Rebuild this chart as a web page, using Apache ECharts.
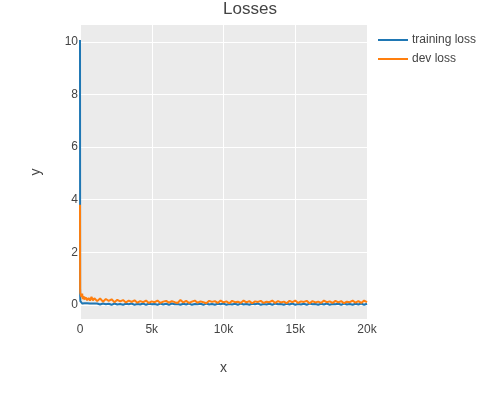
<!DOCTYPE html>
<html>
<head>
<meta charset="utf-8">
<title>Losses</title>
<script src="https://cdn.jsdelivr.net/npm/echarts@6/dist/echarts.min.js"></script>
<style>
  html, body { margin: 0; padding: 0; background: #fff; }
  #chart { width: 500px; height: 400px; }
</style>
</head>
<body>
<div id="chart"></div>
<script>
// training step of each logged point
var steps = [0, 10, 25, 50, 100, 150, 200, 250, 300, 400, 500, 600, 700, 800, 900, 1000,
  1200, 1400, 1600, 1800, 2000, 2200, 2400, 2600, 2800, 3000,
  3200, 3400, 3600, 3800, 4000, 4200, 4400, 4600, 4800, 5000,
  5200, 5400, 5600, 5800, 6000, 6200, 6400, 6600, 6800, 7000,
  7200, 7400, 7600, 7800, 8000, 8200, 8400, 8600, 8800, 9000,
  9200, 9400, 9600, 9800, 10000, 10200, 10400, 10600, 10800, 11000,
  11200, 11400, 11600, 11800, 12000, 12200, 12400, 12600, 12800, 13000,
  13200, 13400, 13600, 13800, 14000, 14200, 14400, 14600, 14800, 15000,
  15200, 15400, 15600, 15800, 16000, 16200, 16400, 16600, 16800, 17000,
  17200, 17400, 17600, 17800, 18000, 18200, 18400, 18600, 18800, 19000,
  19200, 19400, 19600, 19800, 20000];

var trainingLoss = [10.07, 0.35, 0.14, 0.09, 0.07, 0.05, 0.07, 0.04, 0.06, 0.03, 0.06, 0.03, 0.05, 0.03, 0.05, 0.02,
  0.05, 0.01, 0.05, 0.02, 0.04, 0.0, 0.05, 0.01, 0.03, 0.0,
  0.04, 0.02, 0.05, 0.0, 0.03, 0.01, 0.05, 0.0, 0.04, 0.02,
  0.03, 0.0, 0.05, 0.01, 0.04, 0.0, 0.05, 0.02, 0.03, 0.0,
  0.04, 0.01, 0.05, 0.0, 0.03, 0.02, 0.04, 0.0, 0.05, 0.01,
  0.03, 0.0, 0.04, 0.02, 0.05, 0.0, 0.03, 0.01, 0.04, 0.0,
  0.05, 0.01, 0.03, 0.0, 0.04, 0.02, 0.05, 0.0, 0.03, 0.01,
  0.04, 0.0, 0.05, 0.02, 0.03, 0.0, 0.04, 0.01, 0.05, 0.0,
  0.03, 0.01, 0.04, 0.0, 0.05, 0.02, 0.03, 0.0, 0.04, 0.01,
  0.05, 0.0, 0.03, 0.02, 0.04, 0.0, 0.05, 0.01, 0.03, 0.0,
  0.04, 0.01, 0.05, 0.0, 0.04];

var devLoss = [3.8, 0.62, 0.45, 0.5, 0.3, 0.42, 0.22, 0.33, 0.2, 0.28, 0.17, 0.26, 0.16, 0.3, 0.17, 0.25,
  0.14, 0.24, 0.12, 0.22, 0.15, 0.21, 0.1, 0.19, 0.13, 0.18,
  0.09, 0.16, 0.11, 0.17, 0.08, 0.14, 0.1, 0.16, 0.07, 0.13,
  0.1, 0.16, 0.07, 0.12, 0.15, 0.08, 0.14, 0.1, 0.07, 0.18,
  0.09, 0.15, 0.07, 0.12, 0.16, 0.08, 0.13, 0.1, 0.06, 0.15,
  0.11, 0.14, 0.07, 0.16, 0.09, 0.13, 0.06, 0.15, 0.1, 0.12,
  0.07, 0.16, 0.09, 0.14, 0.06, 0.13, 0.11, 0.15, 0.07, 0.12,
  0.1, 0.16, 0.07, 0.14, 0.09, 0.12, 0.06, 0.15, 0.1, 0.16,
  0.07, 0.13, 0.11, 0.15, 0.06, 0.14, 0.09, 0.12, 0.07, 0.16,
  0.1, 0.13, 0.07, 0.15, 0.09, 0.14, 0.06, 0.12, 0.1, 0.16,
  0.08, 0.14, 0.07, 0.16, 0.1];

var xTicks = [0, 5000, 10000, 15000, 20000];
var yTicks = [0, 2, 4, 6, 8, 10];

var textColor = '#444';
var fontName = '"Liberation Sans", Arial, sans-serif';

function pairs(values) {
  return steps.map(function (s, i) { return [s, values[i]]; });
}

var chart = echarts.init(document.getElementById('chart'));

var option = {
  animation: false,
  backgroundColor: '#fff',
  textStyle: { fontFamily: fontName, color: textColor },
  title: {
    text: 'Losses',
    left: 'center',
    top: -4,
    textStyle: { fontFamily: fontName, fontSize: 17, fontWeight: 'normal', color: textColor }
  },
  legend: {
    orient: 'vertical',
    left: 373,
    top: 29,
    itemGap: 7,
    itemWidth: 30,
    itemHeight: 2,
    icon: 'rect',
    textStyle: { fontFamily: fontName, fontSize: 12, color: textColor, padding: [0, 0, 0, -1] },
    data: ['training loss', 'dev loss']
  },
  grid: {
    left: 80, right: 133, top: 25, bottom: 81,
    show: true, backgroundColor: '#ebebeb', borderWidth: 0
  },
  xAxis: {
    type: 'value',
    min: 0,
    max: 20000,
    name: 'x',
    nameLocation: 'middle',
    nameGap: 42,
    nameTextStyle: { fontFamily: fontName, fontSize: 14, color: textColor },
    axisLine: { show: false },
    axisTick: { show: false, customValues: xTicks },
    axisLabel: {
      margin: 5,
      fontSize: 12,
      color: textColor,
      customValues: xTicks,
      formatter: function (v) { return v === 0 ? '0' : (v / 1000) + 'k'; }
    },
    splitLine: { show: true, lineStyle: { color: '#fff', width: 1 } }
  },
  yAxis: {
    type: 'value',
    min: -0.54,
    max: 10.64,
    name: 'y',
    nameLocation: 'middle',
    nameGap: 37,
    nameTextStyle: { fontFamily: fontName, fontSize: 14, color: textColor },
    axisLine: { show: false },
    axisTick: { show: false, customValues: yTicks },
    axisLabel: { margin: 2, fontSize: 12, color: textColor, customValues: yTicks },
    splitLine: { show: true, lineStyle: { color: '#fff', width: 1 } }
  },
  series: [
    {
      name: 'training loss',
      type: 'line',
      data: pairs(trainingLoss),
      showSymbol: false,
      color: '#1f77b4',
      lineStyle: { width: 2 }
    },
    {
      name: 'dev loss',
      type: 'line',
      data: pairs(devLoss),
      showSymbol: false,
      color: '#ff7f0e',
      lineStyle: { width: 2 }
    }
  ]
};

chart.setOption(option);
</script>
</body>
</html>
